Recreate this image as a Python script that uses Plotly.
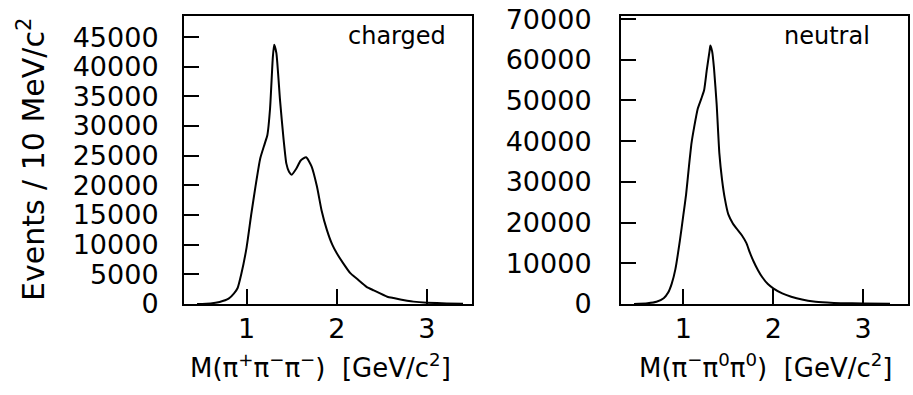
import plotly.graph_objects as go

# charged: M(pi+ pi- pi-) [GeV/c^2] vs events / 10 MeV/c^2
charged_m = [0.45, 0.6, 0.7, 0.8, 0.86, 0.9, 0.94, 1.0, 1.05, 1.1, 1.15, 1.2, 1.23, 1.26,
             1.29, 1.305, 1.33, 1.37, 1.41, 1.44, 1.47, 1.5, 1.55, 1.6, 1.66, 1.72, 1.78,
             1.83, 1.89, 1.95, 2.0, 2.07, 2.15, 2.22, 2.33, 2.41, 2.56, 2.63, 2.78, 2.85,
             3.0, 3.22, 3.4]
charged_n = [0, 100, 350, 900, 1800, 2700, 5000, 9600, 15000, 20000, 24500, 27000, 28500, 33000,
             41500, 43700, 42300, 34400, 27700, 23700, 22300, 21800, 22800, 24200, 24750, 23200, 19800,
             15860, 12500, 10000, 8550, 6900, 5200, 4300, 2900, 2300, 1230, 1000, 560, 400,
             220, 100, 30]

# neutral: M(pi- pi0 pi0)
neutral_m = [0.45, 0.6, 0.7, 0.78, 0.83, 0.87, 0.91, 0.96, 1.0, 1.03, 1.06, 1.09, 1.12, 1.16,
             1.2, 1.23, 1.26, 1.29, 1.30, 1.32, 1.34, 1.37, 1.40, 1.43, 1.46, 1.50, 1.55, 1.60,
             1.65, 1.70, 1.74, 1.78, 1.83, 1.88, 1.94, 2.0, 2.1, 2.2, 2.32, 2.45, 2.6, 2.75,
             3.0, 3.3]
neutral_n = [0, 200, 550, 1400, 2800, 5000, 8500, 15500, 22000, 27000, 33500, 39500, 43500, 48000,
             50500, 52500, 57500, 62000, 63500, 62000, 58000, 49000, 37000, 30500, 26000, 22000, 19800, 18300,
             16900, 15000, 12600, 10500, 8300, 6500, 4900, 3850, 2600, 1800, 1100, 600, 350, 200,
             120, 50]

x_ticks = [1, 2, 3]
charged_yticks = list(range(0, 45001, 5000))
neutral_yticks = list(range(0, 70001, 10000))

FONT = "DejaVu Sans"
W, H = 913, 395
PH = 288  # plot-area height in px

fig = go.Figure()
fig.add_trace(go.Scatter(x=charged_m, y=charged_n, mode="lines",
                         line=dict(color="black", width=2, shape="spline", smoothing=0.5),
                         xaxis="x", yaxis="y", showlegend=False))
fig.add_trace(go.Scatter(x=neutral_m, y=neutral_n, mode="lines",
                         line=dict(color="black", width=2, shape="spline", smoothing=0.5),
                         xaxis="x2", yaxis="y2", showlegend=False))

common_x = dict(range=[0.305, 3.5], tickvals=x_ticks, ticktext=[str(t) for t in x_ticks],
                ticks="inside", ticklen=15, ticklabelstandoff=0,
                tickwidth=1.5, tickcolor="black", showline=True, linecolor="black",
                linewidth=2, mirror=True, showgrid=False, zeroline=False,
                tickfont=dict(family=FONT, size=27, color="black"))
common_y = dict(ticks="inside", ticklen=15, tickwidth=1.5, tickcolor="black",
                showline=True, linecolor="black", linewidth=2, mirror=True,
                showgrid=False, zeroline=False,
                tickfont=dict(family=FONT, size=27, color="black"))

fig.update_layout(
    width=W, height=H, margin=dict(l=0, r=0, t=16, b=91),
    paper_bgcolor="white", plot_bgcolor="white",
    xaxis=dict(domain=[184 / W, 472 / W], anchor="y", **common_x),
    yaxis=dict(domain=[0, 1], anchor="x", range=[0, 48550], tickvals=charged_yticks,
               ticktext=[str(t) for t in charged_yticks],
               ticklabelstandoff=18, **common_y),
    xaxis2=dict(domain=[621 / W, 908 / W], anchor="y2", **common_x),
    yaxis2=dict(domain=[0, 1], anchor="x2", range=[0, 70750], tickvals=neutral_yticks,
                ticktext=[str(t) for t in neutral_yticks],
                ticklabelstandoff=22, **common_y),
    annotations=[
        dict(text="Events / 10 MeV/c<sup>2</sup>", textangle=-90, x=31 / W, y=(304 - 160) / PH,
             xref="paper", yref="paper", showarrow=False, xanchor="center", yanchor="middle",
             font=dict(family=FONT, size=30, color="black")),
        dict(text="M(π<sup>+</sup>π<sup>−</sup>π<sup>−</sup>)\u00a0\u00a0[GeV/c<sup>2</sup>]",
             x=320 / W, y=-(366 - 304) / PH, xref="paper", yref="paper",
             xanchor="center", yanchor="middle",
             showarrow=False, font=dict(family=FONT, size=26, color="black")),
        dict(text="M(π<sup>−</sup>π<sup>0</sup>π<sup>0</sup>)\u00a0\u00a0[GeV/c<sup>2</sup>]",
             x=766 / W, y=-(366 - 304) / PH, xref="paper", yref="paper",
             xanchor="center", yanchor="middle",
             showarrow=False, font=dict(family=FONT, size=26, color="black")),
        dict(text="charged", x=397 / W, y=(304 - 36) / PH, xref="paper", yref="paper",
             xanchor="center", yanchor="middle",
             showarrow=False, font=dict(family=FONT, size=24, color="black")),
        dict(text="neutral", x=827 / W, y=(304 - 36) / PH, xref="paper", yref="paper",
             xanchor="center", yanchor="middle",
             showarrow=False, font=dict(family=FONT, size=24, color="black")),
    ],
)

fig.write_html("out.html")
